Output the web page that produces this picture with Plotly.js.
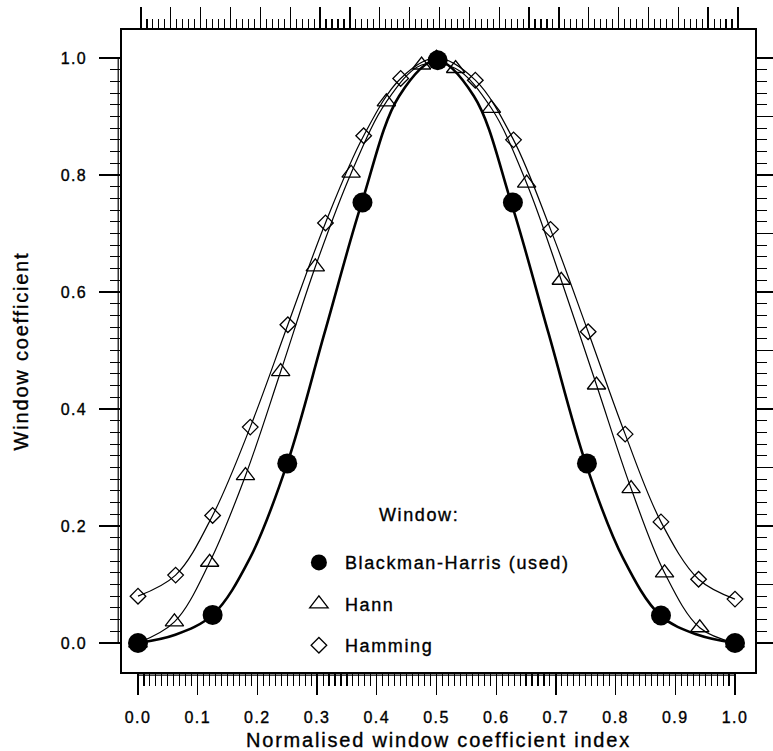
<!DOCTYPE html>
<html><head><meta charset="utf-8">
<script src="https://cdn.plot.ly/plotly-3.0.1.min.js"></script>
<style>
html,body{margin:0;padding:0;background:#fff;}
#chart{width:773px;height:751px;}
text{letter-spacing:0.09em;}
.main-svg text{stroke:#000;stroke-width:0.35px;}
</style></head><body><div id="chart"></div>
<script>
// ---- data ----
// Blackman-Harris: smooth curve samples and marker points
const bhLineX = [0, 0.0625, 0.125, 0.1875, 0.25, 0.3125, 0.375, 0.4375, 0.5, 0.5625, 0.625, 0.6875, 0.75, 0.8125, 0.875, 0.9375, 1.0];
const bhLineY = [0, 0.014, 0.048, 0.145, 0.307, 0.530, 0.753, 0.935, 0.996, 0.935, 0.753, 0.530, 0.307, 0.145, 0.047, 0.014, 0];
const bhX = [0, 0.125, 0.25, 0.376, 0.502, 0.628, 0.752, 0.876, 1.0];
const bhY = [0, 0.048, 0.307, 0.753, 0.996, 0.753, 0.307, 0.047, 0];
// Hann
const hannX = [0, 0.061, 0.120, 0.180, 0.239, 0.297, 0.357, 0.416, 0.475, 0.532, 0.592, 0.651, 0.709, 0.768, 0.826, 0.882, 0.941, 1.0];
const hannY = [0, 0.036, 0.138, 0.286, 0.464, 0.643, 0.803, 0.925, 0.988, 0.982, 0.914, 0.786, 0.620, 0.441, 0.264, 0.120, 0.026, 0];
// Hamming
const hamX = [0, 0.063, 0.125, 0.188, 0.251, 0.314, 0.378, 0.440, 0.5, 0.565, 0.629, 0.691, 0.754, 0.816, 0.876, 0.939, 1.0];
const hamY = [0.080, 0.116, 0.218, 0.369, 0.544, 0.718, 0.867, 0.965, 1.0, 0.962, 0.860, 0.707, 0.532, 0.357, 0.207, 0.109, 0.075];
// series names and tick labels
const seriesNames = ['Blackman-Harris (used)', 'Hann', 'Hamming'];
const legendHeading = 'Window:';
const xTitle = 'Normalised window coefficient index';
const yTitle = 'Window coefficient';
const xTickVals = [0, 0.05, 0.1, 0.15, 0.2, 0.25, 0.3, 0.35, 0.4, 0.45, 0.5, 0.55, 0.6, 0.65, 0.7, 0.75, 0.8, 0.85, 0.9, 0.95, 1.0];
const xTickText = ['0.0', '', '0.1', '', '0.2', '', '0.3', '', '0.4', '', '0.5', '', '0.6', '', '0.7', '', '0.8', '', '0.9', '', '1.0'];
const yTickVals = [0, 0.1, 0.2, 0.3, 0.4, 0.5, 0.6, 0.7, 0.8, 0.9, 1.0];
const yTickText = ['0.0', '', '0.2', '', '0.4', '', '0.6', '', '0.8', '', '1.0'];

// minor tick positions
const xMinor = [], yMinor = [];
for (let i = 0; i <= 100; i++) xMinor.push(+(i / 100).toFixed(2));
for (let i = 0; i <= 50; i++) yMinor.push(+(i / 50).toFixed(2));

const FONT = 'Liberation Sans, Arial, Helvetica, sans-serif';
const xr = [-0.0268, 1.0335];
const yr = [-0.0496, 1.0478];

const traces = [
  {x: hamX, y: hamY, mode: 'lines', line: {color: '#000', width: 1.2, shape: 'spline', smoothing: 1}, showlegend: false, hoverinfo: 'skip'},
  {x: hannX, y: hannY, mode: 'lines', line: {color: '#000', width: 1.2, shape: 'spline', smoothing: 1}, showlegend: false, hoverinfo: 'skip'},
  {x: bhLineX, y: bhLineY, mode: 'lines', line: {color: '#000', width: 2.6, shape: 'spline', smoothing: 1}, showlegend: false, hoverinfo: 'skip'},
  {x: hamX, y: hamY, mode: 'markers', name: seriesNames[2], legendgroup: 'c', legendrank: 3,
   marker: {symbol: 'diamond-open', size: 12, color: '#000', line: {width: 1.3, color: '#000'}}},
  {x: hannX, y: hannY, mode: 'markers', name: seriesNames[1], legendgroup: 'b', legendrank: 2,
   marker: {symbol: 'triangle-up-open', size: 16, color: '#000', line: {width: 1.3, color: '#000'}}},
  {x: bhX, y: bhY, mode: 'markers', name: seriesNames[0], legendgroup: 'a', legendrank: 1,
   marker: {symbol: 'circle', size: 20, color: '#000'}},
  {x: [], y: [], xaxis: 'x2', yaxis: 'y', showlegend: false, hoverinfo: 'skip'},
  {x: [], y: [], xaxis: 'x', yaxis: 'y2', showlegend: false, hoverinfo: 'skip'}
];

const tickFont = {family: FONT, size: 16, color: '#000'};
const layout = {
  width: 773, height: 751,
  margin: {l: 122, r: 18, t: 30, b: 79},
  paper_bgcolor: '#fff', plot_bgcolor: '#fff',
  font: {family: FONT, color: '#000'},
  showlegend: true,
  legend: {x: 0.270, xanchor: 'left', y: 0.199, yanchor: 'top', bgcolor: 'rgba(0,0,0,0)',
    font: {family: FONT, size: 18, color: '#000'}, traceorder: 'grouped', tracegroupgap: 15, itemwidth: 42},
  xaxis: {range: xr, showgrid: false, zeroline: false, showline: true, mirror: true, linecolor: '#000', linewidth: 1.6,
    ticks: 'outside', tickmode: 'array', tickvals: xTickVals, ticktext: xTickText, ticklen: 21, tickwidth: 1.3, tickcolor: '#000',
    ticklabelstandoff: 9, tickfont: tickFont,
    minor: {tickmode: 'array', tickvals: xMinor, ticks: 'outside', ticklen: 12, tickwidth: 1.1, tickcolor: '#000', showgrid: false},
    title: {text: xTitle, font: {family: FONT, size: 20, color: '#000'}, standoff: 8}},
  yaxis: {range: yr, showgrid: false, zeroline: false, showline: true, mirror: true, linecolor: '#000', linewidth: 1.6,
    ticks: 'outside', tickmode: 'array', tickvals: yTickVals, ticktext: yTickText, ticklen: 21, tickwidth: 1.3, tickcolor: '#000',
    ticklabelstandoff: 9, tickfont: tickFont,
    minor: {tickmode: 'array', tickvals: yMinor, ticks: 'outside', ticklen: 10, tickwidth: 1.1, tickcolor: '#000', showgrid: false},
    title: {text: yTitle, font: {family: FONT, size: 20, color: '#000'}, standoff: 26}},
  xaxis2: {overlaying: 'x', side: 'top', anchor: 'y', range: [xr[0] - 0.005, xr[1] - 0.005], showgrid: false, zeroline: false,
    showline: false, showticklabels: false, ticks: 'outside', tickmode: 'array', tickvals: xTickVals, ticklen: 22, tickwidth: 1.3, tickcolor: '#000',
    minor: {tickmode: 'array', tickvals: xMinor, ticks: 'outside', ticklen: 10, tickwidth: 1.1, tickcolor: '#000', showgrid: false}},
  yaxis2: {overlaying: 'y', side: 'right', anchor: 'x', range: yr, showgrid: false, zeroline: false,
    showline: false, showticklabels: false, ticks: 'outside', tickmode: 'array', tickvals: yTickVals, ticklen: 17, tickwidth: 1.3, tickcolor: '#000',
    minor: {tickmode: 'array', tickvals: yMinor, ticks: 'outside', ticklen: 11, tickwidth: 1.1, tickcolor: '#000', showgrid: false}},
  shapes: [
    {type: 'line', xref: 'paper', yref: 'y', x0: -0.006, x1: -0.006, y0: 0, y1: 1, line: {color: '#000', width: 1.2}},
    {type: 'line', xref: 'x', yref: 'paper', x0: 0, x1: 1, y0: -0.005, y1: -0.005, line: {color: '#000', width: 1.2}}
  ],
  annotations: [
    {text: legendHeading, xref: 'paper', yref: 'paper', x: 0.469, y: 0.2445, xanchor: 'center', yanchor: 'middle',
     showarrow: false, font: {family: FONT, size: 18, color: '#000'}}
  ]
};

Plotly.newPlot('chart', traces, layout, {displayModeBar: false, staticPlot: true});
</script></body></html>
